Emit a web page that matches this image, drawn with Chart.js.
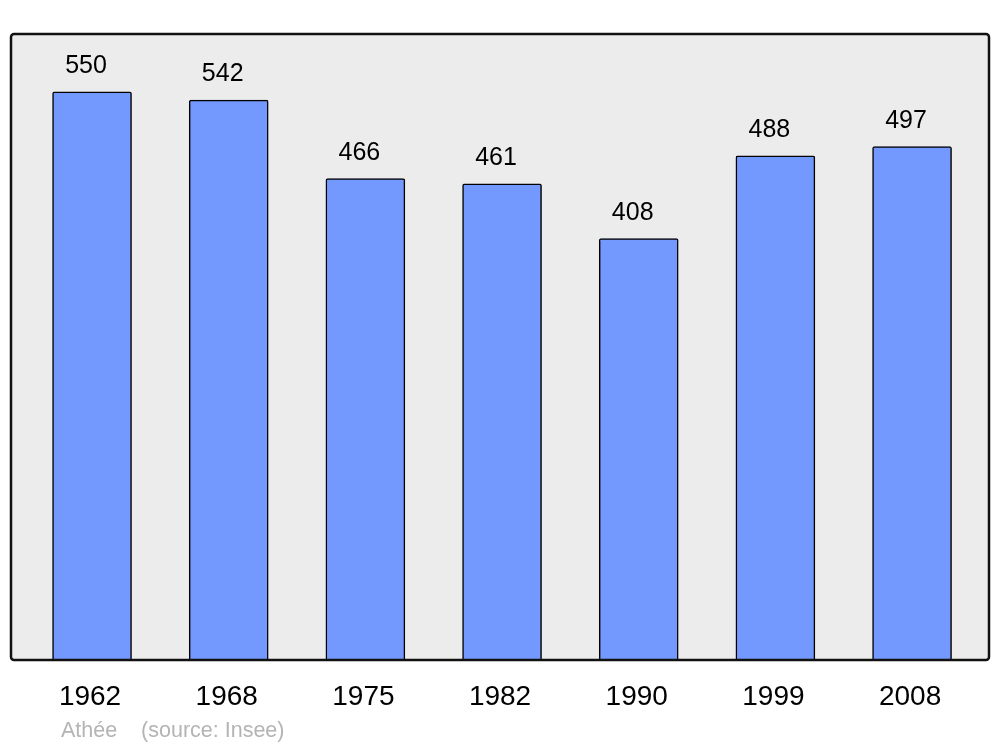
<!DOCTYPE html>
<html>
<head>
<meta charset="utf-8">
<script src="https://cdn.jsdelivr.net/npm/chart.js@4/dist/chart.umd.min.js"></script>
<style>
  html, body { margin: 0; padding: 0; background: #ffffff; }
  #wrap { position: relative; width: 1000px; height: 747px; }
</style>
</head>
<body>
<div id="wrap"><canvas id="chart" width="1000" height="747"></canvas></div>
<script>
// données (population d'Athée, source Insee)
const years = ['1962', '1968', '1975', '1982', '1990', '1999', '2008'];
const population = [550, 542, 466, 461, 408, 488, 497];
const footer = 'Athée    (source: Insee)';

let points = population.map((v, i) => ({ x: i, y: v }));

// fond gris + cadre arrondi autour de la zone du graphique
const cadre = {
    id: 'cadre',
    beforeDatasetsDraw(chart) {
        const a = chart.chartArea, ctx = chart.ctx;
        ctx.save();
        ctx.beginPath();
        ctx.roundRect(a.left, a.top, a.right - a.left, a.bottom - a.top, 3);
        ctx.fillStyle = '#ececec';
        ctx.fill();
        ctx.restore();
    },
    afterDatasetsDraw(chart) {
        const a = chart.chartArea, ctx = chart.ctx;
        ctx.save();
        ctx.beginPath();
        ctx.roundRect(a.left, a.top, a.right - a.left, a.bottom - a.top, 3);
        ctx.lineWidth = 2.5;
        ctx.strokeStyle = '#111111';
        ctx.stroke();

        // valeurs au-dessus des barres
        ctx.fillStyle = '#000000';
        ctx.font = '25px "Liberation Sans", Arial, sans-serif';
        ctx.textAlign = 'center';
        ctx.textBaseline = 'alphabetic';
        chart.getDatasetMeta(0).data.forEach((bar, i) => {
            ctx.fillText(String(population[i]), bar.x - 6, bar.y - 19);
        });

        // source
        ctx.fillStyle = '#b4b4b4';
        ctx.font = '21.5px "Liberation Sans", Arial, sans-serif';
        ctx.textAlign = 'left';
        ctx.fillText(footer, 61, 737);
        ctx.restore();
    }
};

new Chart(document.getElementById('chart'), {
    type: 'bar',
    data: {
        datasets: [{
            data: points,
            backgroundColor: '#7399ff',
            borderColor: '#000000',
            borderWidth: 1.5,
            borderRadius: 2,
            borderSkipped: 'bottom',
            barThickness: 79
        }]
    },
    options: {
        responsive: false,
        animation: false,
        layout: { padding: { left: 11, right: 11, top: 34, bottom: 0 } },
        plugins: { legend: { display: false }, tooltip: { enabled: false } },
        scales: {
            x: {
                type: 'linear',
                min: -0.593,
                max: 6.563,
                offset: false,
                grid: { display: false, drawTicks: false },
                border: { display: false },
                afterBuildTicks: (scale) => { scale.ticks = years.map((y, i) => ({ value: i })); },
                afterFit: (scale) => { scale.height = 87; },
                ticks: {
                    padding: 20,
                    labelOffset: -2,
                    color: '#000000',
                    maxRotation: 0,
                    autoSkip: false,
                    font: { family: '"Liberation Sans", Arial, sans-serif', size: 28 },
                    callback: (v) => years[v]
                }
            },
            y: {
                display: false,
                min: 0,
                max: 606
            }
        }
    },
    plugins: [cadre]
});
</script>
</body>
</html>
